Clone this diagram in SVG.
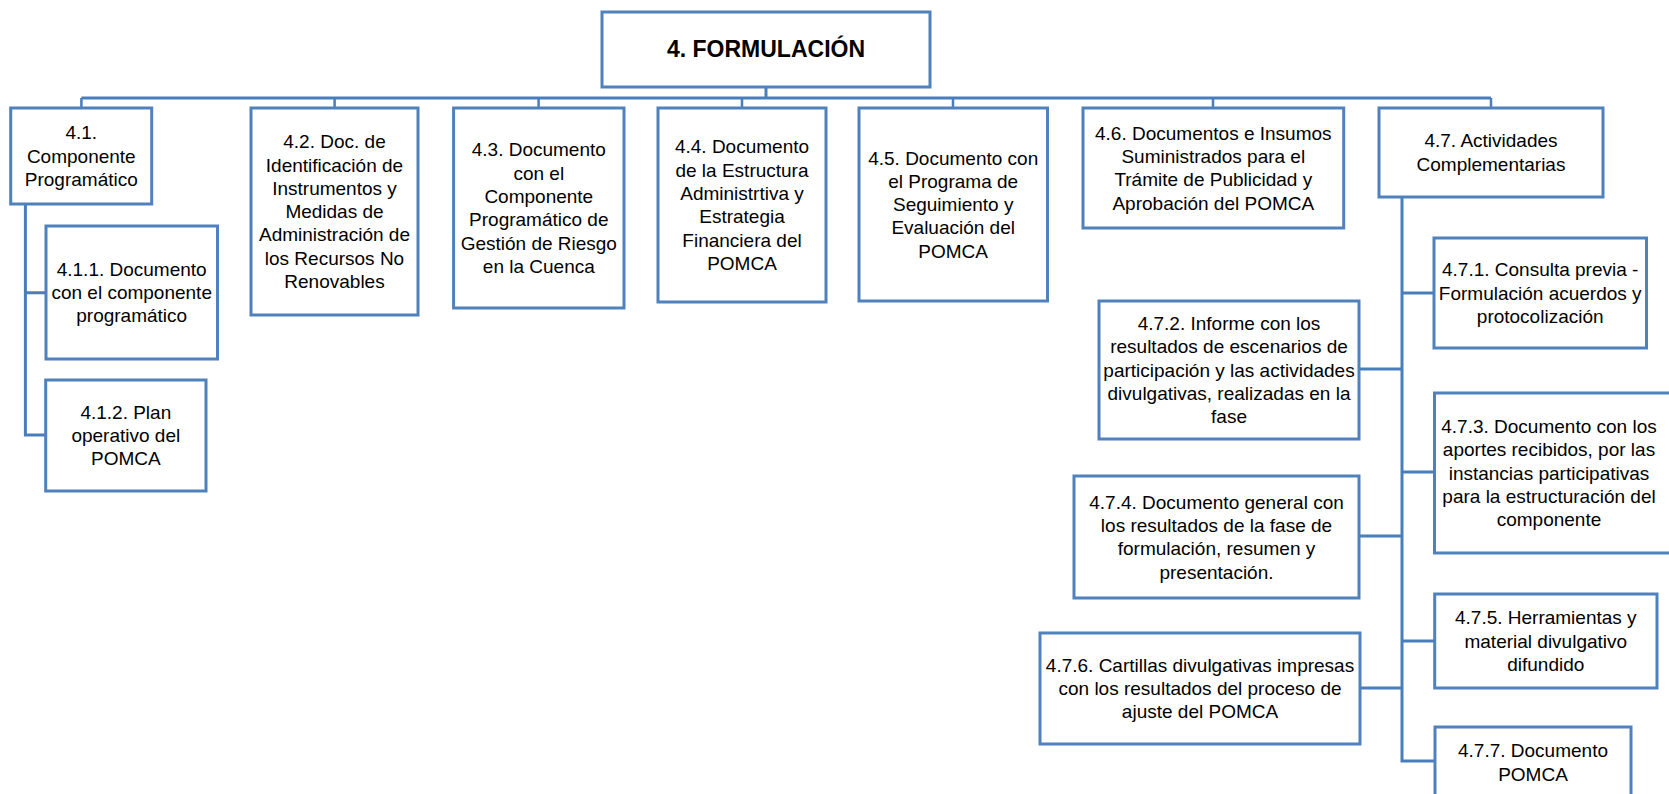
<svg xmlns="http://www.w3.org/2000/svg" width="1669" height="794" viewBox="0 0 1669 794">
<style>
.box{fill:#fff;stroke:#4F81BD;stroke-width:3}
.c{fill:none;stroke:#4A7EBB;stroke-width:3}
.d{fill:none;stroke:#4A7EBB;stroke-width:2.5}
text{font-family:"Liberation Sans",Arial,sans-serif;font-size:19px;fill:#000;text-anchor:middle}
.t{font-size:23px;font-weight:bold}
</style>
<rect width="1669" height="794" fill="#fff"/>
<g id="connectors">
<path class="c" d="M766 87V98M81.4 98H1491"/>
<path class="d" d="M81.4 98V108M334.6 98V108M538.6 98V108M742 98V108M953 98V108M1213 98V108M1491 98V108"/>
<path class="c" d="M25.4 204V435H46M25.4 292.7H46"/>
<path class="c" d="M1402 197V761H1435M1402 293H1434M1402 472H1435M1402 641H1435M1402 369H1359M1402 536H1359M1402 688H1360"/>
</g>
<g id="n4">
<rect class="box" x="602" y="12" width="328" height="75"/>
<text class="t" x="766" y="57">4. FORMULACIÓN</text>
</g>
<g id="n41">
<rect class="box" x="10.7" y="108" width="141" height="96"/>
<text x="81.3"><tspan x="81.3" y="139.3">4.1.</tspan><tspan x="81.3" y="162.6">Componente</tspan><tspan x="81.3" y="185.9">Programático</tspan></text>
</g>
<g id="n411">
<rect class="box" x="46" y="226" width="171.5" height="133"/>
<text><tspan x="131.7" y="275.8">4.1.1. Documento</tspan><tspan x="131.7" y="299.1">con el componente</tspan><tspan x="131.7" y="322.4">programático</tspan></text>
</g>
<g id="n412">
<rect class="box" x="45.7" y="380" width="160.3" height="111"/>
<text><tspan x="125.8" y="418.8">4.1.2. Plan</tspan><tspan x="125.8" y="442.1">operativo del</tspan><tspan x="125.8" y="465.4">POMCA</tspan></text>
</g>
<g id="n42">
<rect class="box" x="251" y="108" width="167" height="207"/>
<text><tspan x="334.5" y="148.2">4.2. Doc. de</tspan><tspan x="334.5" y="171.5">Identificación de</tspan><tspan x="334.5" y="194.8">Instrumentos y</tspan><tspan x="334.5" y="218.1">Medidas de</tspan><tspan x="334.5" y="241.4">Administración de</tspan><tspan x="334.5" y="264.7">los Recursos No</tspan><tspan x="334.5" y="288">Renovables</tspan></text>
</g>
<g id="n43">
<rect class="box" x="453.6" y="108" width="170.4" height="200"/>
<text><tspan x="538.8" y="156.4">4.3. Documento</tspan><tspan x="538.8" y="179.7">con el</tspan><tspan x="538.8" y="203">Componente</tspan><tspan x="538.8" y="226.3">Programático de</tspan><tspan x="538.8" y="249.6">Gestión  de Riesgo</tspan><tspan x="538.8" y="272.9">en la Cuenca</tspan></text>
</g>
<g id="n44">
<rect class="box" x="658" y="108" width="168" height="194"/>
<text><tspan x="742" y="153.4">4.4. Documento</tspan><tspan x="742" y="176.7">de la Estructura</tspan><tspan x="742" y="200">Administrtiva y</tspan><tspan x="742" y="223.3">Estrategia</tspan><tspan x="742" y="246.6">Financiera del</tspan><tspan x="742" y="269.9">POMCA</tspan></text>
</g>
<g id="n45">
<rect class="box" x="859" y="108" width="188.5" height="193"/>
<text><tspan x="953.2" y="164.5">4.5. Documento con</tspan><tspan x="953.2" y="187.8">el Programa de</tspan><tspan x="953.2" y="211.1">Seguimiento y</tspan><tspan x="953.2" y="234.4">Evaluación del</tspan><tspan x="953.2" y="257.7">POMCA</tspan></text>
</g>
<g id="n46">
<rect class="box" x="1083" y="108" width="260.7" height="120"/>
<text><tspan x="1213.3" y="139.6">4.6. Documentos e Insumos</tspan><tspan x="1213.3" y="162.9">Suministrados para el</tspan><tspan x="1213.3" y="186.2">Trámite de Publicidad y</tspan><tspan x="1213.3" y="209.5">Aprobación del POMCA</tspan></text>
</g>
<g id="n47">
<rect class="box" x="1379" y="108" width="224" height="89"/>
<text><tspan x="1491" y="147.4">4.7. Actividades</tspan><tspan x="1491" y="170.7">Complementarias</tspan></text>
</g>
<g id="n471">
<rect class="box" x="1434" y="238" width="212.5" height="110"/>
<text><tspan x="1540.2" y="276.3">4.7.1. Consulta previa -</tspan><tspan x="1540.2" y="299.6">Formulación acuerdos y</tspan><tspan x="1540.2" y="322.9">protocolización</tspan></text>
</g>
<g id="n472">
<rect class="box" x="1099" y="301" width="260" height="138"/>
<text><tspan x="1229" y="330">4.7.2. Informe con los</tspan><tspan x="1229" y="353.3">resultados de escenarios de</tspan><tspan x="1229" y="376.6">participación y las actividades</tspan><tspan x="1229" y="399.9">divulgativas, realizadas en la</tspan><tspan x="1229" y="423.2">fase</tspan></text>
</g>
<g id="n473">
<rect class="box" x="1434.5" y="393" width="245" height="160"/>
<text><tspan x="1549" y="433">4.7.3. Documento con los</tspan><tspan x="1549" y="456.3">aportes recibidos, por las</tspan><tspan x="1549" y="479.6">instancias participativas</tspan><tspan x="1549" y="502.9">para la estructuración del</tspan><tspan x="1549" y="526.2">componente</tspan></text>
</g>
<g id="n474">
<rect class="box" x="1074" y="476" width="285" height="122"/>
<text><tspan x="1216.5" y="508.6">4.7.4. Documento general con</tspan><tspan x="1216.5" y="531.9">los resultados de la fase de</tspan><tspan x="1216.5" y="555.2">formulación, resumen y</tspan><tspan x="1216.5" y="578.5">presentación.</tspan></text>
</g>
<g id="n475">
<rect class="box" x="1434.7" y="594" width="222.3" height="94"/>
<text><tspan x="1545.8" y="624.3">4.7.5. Herramientas y</tspan><tspan x="1545.8" y="647.6">material divulgativo</tspan><tspan x="1545.8" y="670.9">difundido</tspan></text>
</g>
<g id="n476">
<rect class="box" x="1040" y="633" width="320" height="111"/>
<text><tspan x="1200" y="671.8">4.7.6. Cartillas divulgativas impresas</tspan><tspan x="1200" y="695.1">con los resultados del proceso de</tspan><tspan x="1200" y="718.4">ajuste del POMCA</tspan></text>
</g>
<g id="n477">
<rect class="box" x="1435" y="727" width="196" height="72"/>
<text><tspan x="1533" y="757.3">4.7.7. Documento</tspan><tspan x="1533" y="780.6">POMCA</tspan></text>
</g>
</svg>
